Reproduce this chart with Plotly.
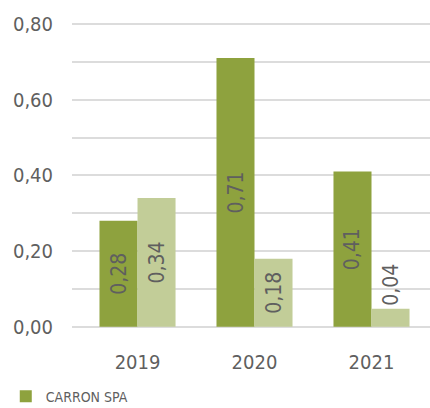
import plotly.graph_objects as go

categories = ["2019", "2020", "2021"]
series_dark_name = "CARRON SPA"
series_dark = [0.28, 0.71, 0.41]
series_dark_labels = ["0,28", "0,71", "0,41"]
series_light = [0.34, 0.18, 0.048]
series_light_labels = ["0,34", "0,18", "0,04"]
y_ticks = [0, 0.2, 0.4, 0.6, 0.8]

FONT = "Liberation Sans Narrow, DejaVu Sans Condensed, Arial Narrow, sans-serif"
GRAY = "#5f5f5f"

fig = go.Figure()
fig.add_trace(go.Bar(
    x=categories, y=series_dark, name=series_dark_name,
    marker=dict(color="#8ea23e", line=dict(width=0)),
    text=series_dark_labels, textposition="auto", textangle=-90,
    insidetextanchor="middle", constraintext="none",
    textfont=dict(family=FONT, size=21, color=GRAY),
    showlegend=True,
))
fig.add_trace(go.Bar(
    x=categories, y=series_light, name="",
    marker=dict(color="#c2cd98", line=dict(width=0)),
    text=series_light_labels, textposition="auto", textangle=-90,
    insidetextanchor="middle", constraintext="none",
    textfont=dict(family=FONT, size=21, color=GRAY),
    showlegend=False,
))

fig.update_layout(
    width=430, height=408,
    margin=dict(l=72, r=0, t=22, b=80, autoexpand=False),
    paper_bgcolor="white", plot_bgcolor="white",
    barmode="group", bargap=0.35, bargroupgap=0,
    separators=",.",
    font=dict(family=FONT, color=GRAY),
    showlegend=True,
    legend=dict(orientation="h", x=-0.185, xanchor="left", y=-0.172, yanchor="top",
                font=dict(family=FONT, size=14, color=GRAY), itemwidth=30,
                traceorder="normal", tracegroupgap=0),
    xaxis=dict(range=[-0.56, 2.5], showgrid=False, zeroline=False, showline=False,
               ticks="", ticklabelstandoff=20, automargin=False,
               tickfont=dict(family=FONT, size=20, color=GRAY)),
    yaxis=dict(range=[-0.003, 0.805], tickvals=y_ticks, tickformat=".2f",
               showgrid=False, zeroline=False, showline=False, ticks="",
               ticklabelstandoff=18, automargin=False,
               tickfont=dict(family=FONT, size=20, color=GRAY)),
)
fig.update_yaxes(showgrid=True, gridcolor="#dcdcdc", gridwidth=1.5,
                 minor=dict(dtick=0.1, showgrid=True, gridcolor="#dcdcdc", gridwidth=1.5))

fig.write_html("out.html", config={"displayModeBar": False},
               post_script="document.body.style.margin='0';document.body.style.padding='0';")
